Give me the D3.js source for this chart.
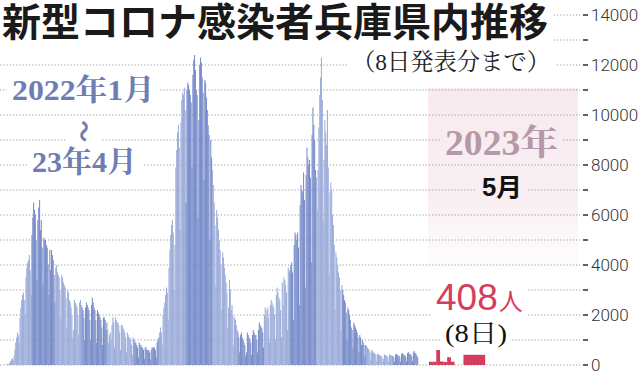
<!DOCTYPE html>
<html>
<head>
<meta charset="utf-8">
<script src="https://cdn.jsdelivr.net/npm/d3@7"></script>
<style>
    html, body { margin: 0; padding: 0; background: #fff; }
    svg { display: block; }
</style>
</head>
<body>
<svg id="mySVG" width="640" height="374"></svg>
<script>
// daily new cases, Hyogo, Jan 1 2022 .. Dec 31 2022 (one row per month)
let cases2022 = [
    // Jan
    12,15,10,30,50,90,150, 230,260,190,350,620,900,1100, 1300,1200,900,1900,2300,2600,2800, 2900,2600,2000,3500,3900,4100,4200, 4400,3800,2800,
    // Feb
    5200,5900,6500,6200,6000,5000,3400, 5800,6300,6600,5400,5800,4700,3200, 5100,5000,5000,4800,4700,4000,2800, 4600,3800,4600,4400,4200,3600,2500,
    // Mar
    3900,4000,3700,3600,3500,3000,1900, 3600,3500,3300,3200,3100,2700,1500, 3000,2900,2600,2500,2300,2000,1100, 1400,2600,2500,2400,2300,2000,1200, 2500,2600,2400,
    // Apr
    2300,2200,1900,1000,2300,2500,2400, 2300,2200,1800,1000,2400,2700,2500, 2300,2200,1800,900,2200,2100,2000, 1900,1800,1500,800,1900,1900,1800, 1400,1700,
    // May
    1400,900,1200,1300,1000,1600,1900, 1700,700,1900,1800,1700,1700,1600, 1300,600,1600,1600,1500,1400,1300, 1100,500,1300,1200,1100,1100,1000, 800,400,1100,
    // Jun
    1000,900,900,800,700,300,900, 800,800,700,700,600,250,700, 700,600,600,600,500,220,600, 700,700,700,700,600,300,900, 1000,1100,
    // Jul
    1300,1500,1300,800,2000,2300,2500, 2800,3100,2900,1800,3900,4600,5200, 5600,5800,5300,3000,4800,7900,8600, 9300,9600,8700,5400,9700,10600,10900, 10800,11100,10200,
    // Aug
    6500,11000,11300,11200,11000,10800,10500, 7900,11600,12200,12400,11800,11000,10800, 5900,9800,12000,12300,12100,11500,10900, 7400,11400,11300,10700,10200,9600,9200, 5000,9000,8300,
    // Sep
    7800,7200,6500,5600,3200,6200,5900, 5400,5000,4600,4000,2200,4500,4300, 3900,3600,3300,2900,1500,2300,3400, 3000,2200,2400,2000,800,1900,1800, 1600,1400,
    // Oct
    1300,1100,500,1200,1300,1100,1000, 900,800,350,500,1300,1200,1100, 1000,900,400,1200,1400,1300,1200, 1200,1000,500,1400,1700,1600,1500, 1500,1300,700,
    // Nov
    2000,2300,1900,2200,2300,1900,900, 2400,2600,2500,2400,2300,2000,1000, 2800,3100,2900,2700,2600,2200,1100, 3300,2400,3500,3400,3200,2900,1400, 3900,3700,
    // Dec
    3800,4000,4100,3700,1800,4800,5300, 5200,5000,5300,4700,2400,6400,7200, 7000,6900,7700,6600,3100,7600,8700, 8300,8000,8200,7500,4100,9200,10300, 9600,9000,7800
];
// Jan 1 2023 .. Apr 30 2023
let cases2023 = [
    // Jan
    7500,6200,7800,9500,10800,11500,12300, 10600,5800,8200,9800,9300,8800,10200, 7900,3600,6900,7300,7000,6000,5600, 4800,2200,4500,4300,4000,3700,3500, 3000,1400,3200,
    // Feb
    3000,2800,2600,2500,2100,1000,2300, 2200,2000,1800,1500,1400,700,1700, 1600,1500,1400,1300,1100,500,1200, 1100,800,1000,900,800,350,800,
    // Mar
    750,700,650,600,500,200,600, 550,500,480,450,400,150,450, 420,400,380,370,330,130,250, 420,400,380,370,320,130,420, 400,380,370,
    // Apr
    360,300,120,420,450,400,380, 370,320,130,450,480,430,400, 390,330,140,470,520,460,430, 420,350,150,500,560,480,450, 380,320
];
// May 2023, days 1-7, and the latest figure (8th)
let mayDays = [1, 2, 3, 4, 5, 6, 7];
let mayCases = [130, 130, 600, 140, 120, 310, 130];
let latestCases = 408;

let yTicks = [0,1000,2000,3000,4000,5000,6000,7000,8000,9000,10000,11000,12000,13000,14000];
let yLabels = [0,2000,4000,6000,8000,10000,12000,14000];

let dates = d3.timeDay.range(new Date(2022, 0, 1), new Date(2023, 4, 1));
let allCases = cases2022.concat(cases2023);
let data = dates.map(function (d, i) {
    return { date: d, value: allCases[i] };
});

let svg = d3.select("#mySVG");
let defs = svg.append("defs");

let xScale = d3.scaleBand().domain(dates).range([5, 418]).padding(0);
let yScale = d3.scaleLinear().domain([0, 14000]).range([365, 15]);
let mayScale = d3.scaleLinear().domain([0, 16]).range([429, 487]);

// pink May panel, fading to white
let grad = defs.append("linearGradient").attr("id", "pinkGrad")
    .attr("x1", 0).attr("y1", 0).attr("x2", 0).attr("y2", 1);
grad.append("stop").attr("offset", "0%").attr("stop-color", "#f8eaee");
grad.append("stop").attr("offset", "40%").attr("stop-color", "#f9eff2");
grad.append("stop").attr("offset", "68%").attr("stop-color", "#ffffff");
svg.append("rect")
    .attr("x", 428).attr("y", 88)
    .attr("width", 150).attr("height", 277)
    .attr("fill", "url(#pinkGrad)");

// gridlines go in a masked group, texts punch holes in it
let mask = defs.append("mask").attr("id", "gridMask").attr("maskUnits", "userSpaceOnUse");
mask.append("rect").attr("x", 0).attr("y", 0).attr("width", 640).attr("height", 374).attr("fill", "#fff");

let grid = svg.append("g").attr("mask", "url(#gridMask)");
grid.selectAll("line")
    .data(yTicks)
    .enter().append("line")
    .attr("x1", 0).attr("x2", 580)
    .attr("y1", function (d) { return yScale(d); })
    .attr("y2", function (d) { return yScale(d); })
    .attr("stroke", "#9a9a9a")
    .attr("stroke-width", 1)
    .attr("stroke-dasharray", "1.2,2");

// bars, months alternate between two blues
let lightBlue = "#9dadda", darkBlue = "#798dca";
svg.append("g").selectAll("rect")
    .data(data)
    .enter().append("rect")
    .attr("x", function (d) { return xScale(d.date); })
    .attr("y", function (d) { return yScale(d.value); })
    .attr("width", xScale.bandwidth() + 0.2)
    .attr("height", function (d) { return yScale(0) - yScale(d.value); })
    .attr("fill", function (d) {
        let m = (d.date.getFullYear() - 2022) * 12 + d.date.getMonth();
        return m % 2 ? darkBlue : lightBlue;
    });

let red = "#d63c5b";
svg.append("g").selectAll("rect")
    .data(mayDays)
    .enter().append("rect")
    .attr("x", function (d) { return mayScale(d - 1); })
    .attr("y", function (d, i) { return yScale(mayCases[i]); })
    .attr("width", mayScale(1) - mayScale(0) + 0.2)
    .attr("height", function (d, i) { return yScale(0) - yScale(mayCases[i]); })
    .attr("fill", red);
svg.append("rect")
    .attr("x", mayScale(mayDays.length + 2.5))
    .attr("y", yScale(latestCases))
    .attr("width", mayScale(6) - mayScale(0))
    .attr("height", yScale(0) - yScale(latestCases))
    .attr("fill", red);

// right axis: dashes + labels
let axis = svg.append("g");
axis.selectAll("line")
    .data(yTicks)
    .enter().append("line")
    .attr("x1", 583).attr("x2", 588)
    .attr("y1", function (d) { return yScale(d); })
    .attr("y2", function (d) { return yScale(d); })
    .attr("stroke", "#3a3a3a")
    .attr("stroke-width", 1.6);
axis.selectAll("text")
    .data(yLabels)
    .enter().append("text")
    .attr("x", 591)
    .attr("y", function (d) { return yScale(d) + 6; })
    .attr("font-family", "Roboto, 'Liberation Sans', sans-serif")
    .attr("font-weight", 300)
    .attr("font-size", "17px")
    .attr("fill", "#333")
    .text(function (d) { return d; });

// texts
let serif = "'Liberation Serif', 'Noto Serif CJK JP', 'Noto Sans CJK JP', serif";
let sans = "'Liberation Sans', 'Noto Sans CJK JP', sans-serif";
let labels = svg.append("g");

function addText(txt, x, y, size, opts) {
    let t = labels.append("text")
        .attr("x", x).attr("y", y)
        .attr("font-size", size + "px")
        .attr("font-family", opts.font || sans)
        .attr("font-weight", opts.weight || 400)
        .attr("fill", opts.fill || "#111")
        .text(txt);
    if (opts.len) t.attr("textLength", opts.len).attr("lengthAdjust", "spacingAndGlyphs");
    if (opts.rotate) t.attr("text-anchor", "middle").attr("transform", "rotate(90," + x + "," + (y - size * 0.35) + ")");
    return t;
}

let title = addText("新型コロナ感染者兵庫県内推移", 2, 36, 39, { font: "'Noto Sans CJK JP', sans-serif", weight: 700, fill: "#1a1a1a" });
let sub = addText("（8日発表分まで）", 352, 70, 24, { font: serif, fill: "#222", len: 198 });

let blueText = "#6e7eb4";
let t1 = addText("2022年1月", 12, 100, 30, { font: serif, weight: 700, fill: blueText, len: 143 });
let t2 = addText("〜", 84, 139, 22, { font: "'Noto Sans CJK JP', sans-serif", weight: 700, fill: blueText, rotate: true });
let t3 = addText("23年4月", 32, 172, 30, { font: serif, weight: 700, fill: blueText, len: 105 });

let t4 = addText("2023年", 445, 155, 35, { font: serif, weight: 700, fill: "#b699a8", len: 113 });
let t5 = addText("5月", 482, 196, 25, { weight: 700, fill: "#111", len: 40 });

let t6 = labels.append("text")
    .attr("x", 436).attr("y", 310)
    .attr("font-family", sans)
    .attr("fill", red);
t6.append("tspan").attr("font-size", "37px").text(latestCases);
t6.append("tspan").attr("font-size", "24px").attr("dx", 1).text("人");
let t7 = addText("(8日)", 445, 342, 25, { font: serif, fill: "#111", len: 62 });

// cut the gridlines around every text block
[title, sub, t1, t2, t3, t4, t5, t6, t7].forEach(function (t) {
    let b = t.node().getBBox();
    let m = t.attr("transform") ? 2 : 5;
    if (t.attr("transform")) {
        // rotated glyph: swap the box around its centre
        let cx = b.x + b.width / 2, cy = b.y + b.height / 2;
        b = { x: cx - b.height / 2, y: cy - b.width / 2, width: b.height, height: b.width };
    }
    mask.append("rect")
        .attr("x", b.x - m).attr("y", b.y - 1)
        .attr("width", b.width + 2 * m).attr("height", b.height + 2)
        .attr("fill", "#000");
});
</script>
</body>
</html>
